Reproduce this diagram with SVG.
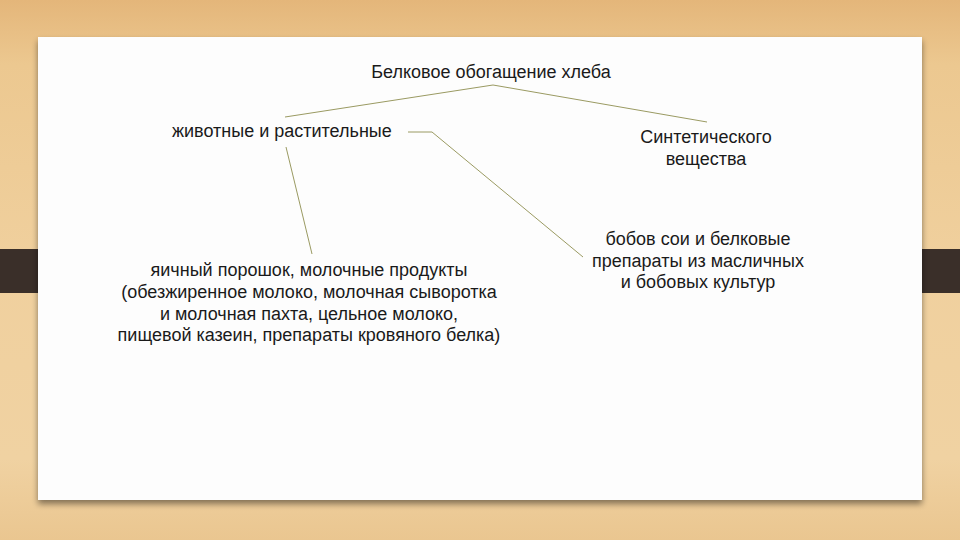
<svg xmlns="http://www.w3.org/2000/svg" width="960" height="540" viewBox="0 0 960 540">
  <defs>
    <linearGradient id="wood" x1="0" y1="0" x2="0" y2="1">
      <stop offset="0" stop-color="#e4b67a"/>
      <stop offset="0.12" stop-color="#ecc890"/>
      <stop offset="0.5" stop-color="#f0d09e"/>
      <stop offset="0.85" stop-color="#f0d2a2"/>
      <stop offset="1" stop-color="#eac690"/>
    </linearGradient>
    <filter id="shadow" x="-5%" y="-5%" width="110%" height="115%">
      <feGaussianBlur in="SourceAlpha" stdDeviation="3"/>
      <feOffset dx="0" dy="4" result="b"/>
      <feComponentTransfer><feFuncA type="linear" slope="0.45"/></feComponentTransfer>
      <feMerge><feMergeNode/><feMergeNode in="SourceGraphic"/></feMerge>
    </filter>
    <style>
      .t { font-family: "Liberation Sans", Arial, sans-serif; font-size: 18px; fill: #1a1a1a; }
      .c { stroke: #9a9a62; stroke-width: 1; fill: none; }
    </style>
  </defs>
  <rect width="960" height="540" fill="url(#wood)"/>
  <rect x="0" y="249" width="40" height="44" fill="#3a2f29"/>
  <rect x="920" y="249" width="40" height="44" fill="#3a2f29"/>
  <rect x="38" y="37" width="884" height="463" fill="#fdfdfd" filter="url(#shadow)"/>

  <g id="connectors">
    <polyline class="c" points="285,117 493,85 707,122"/>
    <polyline class="c" points="408,132 432,132 583,257"/>
    <line class="c" x1="286" y1="147" x2="312" y2="254"/>
  </g>

  <g id="title">
    <text class="t" x="491" y="78" text-anchor="middle">Белковое обогащение хлеба</text>
  </g>
  <g id="animal-plant">
    <text class="t" x="172" y="137">животные и растительные</text>
  </g>
  <g id="synthetic">
    <text class="t" x="706" y="143" text-anchor="middle">Синтетического</text>
    <text class="t" x="706" y="165" text-anchor="middle">вещества</text>
  </g>
  <g id="animal-products">
    <text class="t" x="309" y="276" text-anchor="middle">яичный порошок, молочные продукты</text>
    <text class="t" x="309" y="298" text-anchor="middle">(обезжиренное молоко, молочная сыворотка</text>
    <text class="t" x="309" y="320" text-anchor="middle">и молочная пахта, цельное молоко,</text>
    <text class="t" x="309" y="341" text-anchor="middle">пищевой казеин, препараты кровяного белка)</text>
  </g>
  <g id="plant-products">
    <text class="t" x="698" y="245" text-anchor="middle">бобов сои и белковые</text>
    <text class="t" x="698" y="267" text-anchor="middle">препараты из масличных</text>
    <text class="t" x="698" y="288" text-anchor="middle">и бобовых культур</text>
  </g>
</svg>
